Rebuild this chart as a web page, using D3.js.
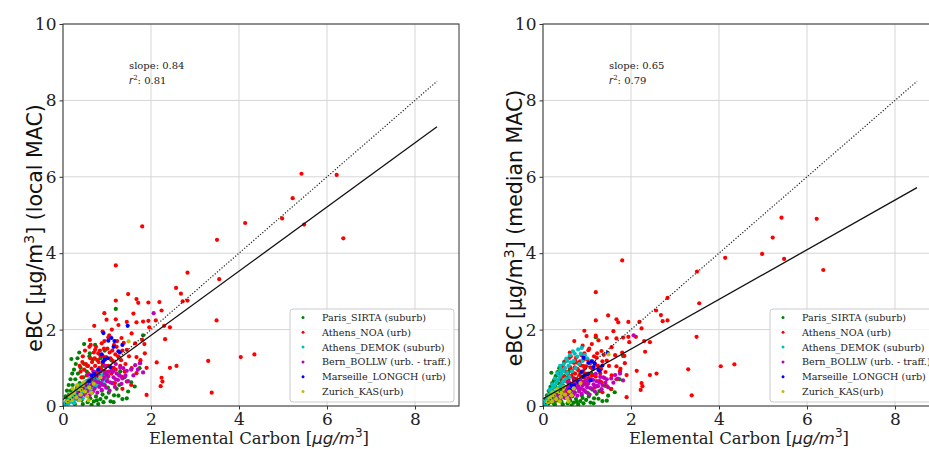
<!DOCTYPE html>
<html><head><meta charset="utf-8">
<script src="https://cdn.jsdelivr.net/npm/d3@7"></script>
<style>body{margin:0;background:#fff}svg{display:block}</style>
</head><body>
<svg id="chart" width="929" height="449"></svg>
<script>
// ---------- DATA ----------
const siteNames = ["Paris_SIRTA (suburb)", "Athens_NOA (urb)", "Athens_DEMOK (suburb)",
  "Bern_BOLLW (urb. - traff.)", "Marseille_LONGCH (urb)", "Zurich_KAS(urb)"];
const siteColors = ["#008000", "#ff0000", "#00bfbf", "#bf00bf", "#0000ff", "#bfbf00"];
const panelMac = ["local MAC", "median MAC"];
const slopes = [0.84, 0.65];
const r2Values = [0.81, 0.79];
const fitIntercepts = [0.17, 0.19];
const xTicks = [0, 2, 4, 6, 8];
const yTicks = [0, 2, 4, 6, 8, 10];
const lineEnd = 8.5;

// each point: [EC, eBC local MAC, eBC median MAC]
const parisSirta = [
[0.05,0.05,0.04],[0.08,0.12,0.09],[0.10,0.20,0.14],[0.12,0.08,0.06],[0.14,0.30,0.21],[0.16,0.15,0.11],
[0.18,0.40,0.28],[0.20,0.25,0.18],[0.22,0.55,0.39],[0.24,0.10,0.07],[0.26,0.35,0.25],[0.28,0.70,0.50],
[0.30,0.20,0.14],[0.32,0.48,0.34],[0.34,0.85,0.60],[0.36,0.28,0.20],[0.38,0.60,0.43],[0.40,1.00,0.71],
[0.42,0.15,0.11],[0.44,0.40,0.28],[0.46,0.75,0.53],[0.48,1.10,0.78],[0.50,0.30,0.21],[0.52,0.55,0.39],
[0.54,0.90,0.64],[0.56,0.10,0.07],[0.58,0.45,0.32],[0.60,1.30,0.92],[0.62,0.20,0.14],[0.64,0.70,0.50],
[0.66,0.35,0.25],[0.68,1.22,0.87],[0.70,0.12,0.09],[0.72,0.50,0.36],[0.75,0.25,0.18],[0.78,0.85,0.60],
[0.80,0.05,0.04],[0.82,0.62,0.44],[0.85,0.18,0.13],[0.88,0.40,0.28],[0.90,1.05,0.75],[0.92,0.10,0.07],
[0.95,0.55,0.39],[0.98,0.22,0.16],[1.00,0.80,0.57],[1.04,0.35,0.25],[1.08,0.12,0.09],[1.12,0.60,0.43],
[1.16,0.28,0.20],[1.20,2.54,1.80],[1.22,0.45,0.32],[1.26,0.27,0.19],[1.30,0.90,0.64],[1.35,0.18,0.13],
[1.40,0.75,0.53],[1.48,0.38,0.27],[1.55,0.62,0.44],[1.63,0.51,0.36],[1.74,0.99,0.70],[0.48,1.62,1.15],
[0.73,1.60,1.14],[0.61,1.38,0.98],[0.19,1.23,0.87],[0.95,1.45,1.03],[1.10,1.20,0.85],[1.82,1.85,1.31],
[0.06,0.25,0.18],[0.09,0.40,0.28],[0.13,0.55,0.39],[0.17,0.70,0.50],[0.21,0.85,0.60],[0.25,0.95,0.67],
[0.29,1.10,0.78],[0.33,1.25,0.89],[0.37,1.40,0.99],[0.27,0.05,0.04],[0.45,0.05,0.04],[0.65,0.03,0.02],
[0.77,0.15,0.11],[0.90,0.30,0.21],[1.02,0.48,0.34],[1.15,0.10,0.07],[1.28,0.55,0.39],[1.45,0.20,0.14],
[0.55,1.05,0.75],[0.85,1.25,0.89]
];
const athensNoa = [
[1.80,4.70,3.81],[1.20,3.68,2.98],[2.83,3.49,2.83],[3.55,3.32,2.69],[1.48,2.93,2.37],[2.57,3.09,2.50],
[2.68,2.94,2.38],[2.83,2.76,2.24],[2.72,2.74,2.22],[1.20,2.76,2.24],[1.67,2.80,2.27],[1.71,2.70,2.19],
[1.94,2.71,2.20],[2.19,2.72,2.20],[0.94,2.43,1.97],[1.60,2.42,1.96],[2.24,2.50,2.03],[0.99,2.26,1.83],
[1.20,2.27,1.84],[1.45,2.20,1.78],[1.67,2.19,1.77],[1.82,2.21,1.79],[1.94,2.23,1.81],[2.11,2.24,1.81],
[2.43,2.06,1.67],[2.30,2.10,1.70],[1.96,2.06,1.67],[1.26,2.12,1.72],[1.11,2.00,1.62],[0.71,2.10,1.70],
[0.90,1.95,1.58],[1.05,1.85,1.50],[3.49,2.24,1.81],[2.32,1.75,1.42],[1.85,1.62,1.31],[1.67,1.28,1.04],
[1.76,1.20,0.97],[2.13,1.14,0.92],[1.90,1.00,0.81],[2.43,1.00,0.81],[2.58,1.05,0.85],[2.24,0.74,0.60],
[2.26,0.64,0.52],[2.22,0.52,0.42],[1.90,0.29,0.23],[3.30,1.18,0.96],[3.38,0.35,0.28],[4.04,1.28,1.04],
[4.35,1.35,1.09],[5.42,6.08,4.93],[6.22,6.05,4.90],[5.22,5.44,4.41],[4.98,4.91,3.98],[5.48,4.75,3.85],
[4.14,4.79,3.88],[3.50,4.35,3.52],[6.37,4.39,3.56],[1.03,1.80,1.46],[1.33,1.78,1.44],[1.56,1.90,1.54],
[1.80,1.73,1.40],[1.22,1.55,1.26],[1.45,1.47,1.19],[1.64,1.64,1.33],[1.86,1.38,1.12],[1.75,1.12,0.91],
[1.56,0.99,0.80],[1.33,0.77,0.62],[1.18,0.60,0.49],[1.45,0.64,0.52],[1.67,0.86,0.70],[1.11,0.99,0.80],
[0.95,1.21,0.98],[0.80,1.38,1.12],[0.88,1.64,1.33],[0.73,1.47,1.19],[0.61,1.73,1.40],
[0.35,0.55,0.45],[0.42,0.75,0.61],[0.48,0.95,0.77],[0.52,1.10,0.89],[0.55,0.62,0.50],[0.58,0.85,0.69],
[0.62,1.25,1.01],[0.65,0.98,0.79],[0.68,0.72,0.58],[0.70,1.40,1.13],[0.73,1.05,0.85],[0.76,0.88,0.71],
[0.78,1.20,0.97],[0.80,0.65,0.53],[0.83,1.00,0.81],[0.85,1.32,1.07],[0.88,0.78,0.63],[0.90,1.12,0.91],
[0.93,1.50,1.22],[0.95,0.92,0.75],[0.98,1.28,1.04],[1.00,0.70,0.57],[1.03,1.05,0.85],[1.06,1.40,1.13],
[1.10,0.85,0.69],[1.13,1.18,0.96],[1.16,1.60,1.30],[1.20,0.95,0.77],[1.25,1.30,1.05],[1.30,1.05,0.85],
[1.35,1.45,1.17],[1.40,0.90,0.73],[0.45,1.30,1.05],[0.38,1.05,0.85],[0.60,1.55,1.26],[0.50,0.45,0.36],
[0.30,0.40,0.32],[0.25,0.30,0.24],[0.65,0.50,0.41],[0.72,0.58,0.47],[1.35,0.45,0.36],[1.55,0.55,0.45],
[0.40,0.90,0.73],[0.44,1.15,0.93],[0.50,1.45,1.17],[0.54,0.80,0.65],[0.57,1.05,0.85],[0.60,0.70,0.57],
[0.63,1.60,1.30],[0.66,1.15,0.93],[0.69,0.90,0.73],[0.72,1.25,1.01],[0.75,1.55,1.26],[0.77,0.75,0.61],
[0.81,1.15,0.93],[0.84,1.45,1.17],[0.87,0.95,0.77],[0.91,1.30,1.05],[0.94,1.70,1.38],[0.97,1.05,0.85],
[1.01,1.50,1.22],[1.04,0.90,0.73],[1.08,1.25,1.01],[1.12,1.45,1.17],[1.15,1.00,0.81],[1.19,1.35,1.09],
[1.23,1.70,1.38],[1.28,0.80,0.65],[1.32,1.20,0.97],[1.38,1.65,1.34],[1.42,1.10,0.89],[1.50,1.30,1.05],
[0.55,0.38,0.31],[0.85,0.55,0.45]
];
const athensDemok = [
[0.03,0.02,0.04],[0.05,0.06,0.11],[0.07,0.03,0.06],[0.09,0.08,0.15],[0.10,0.12,0.23],[0.12,0.06,0.11],
[0.14,0.15,0.29],[0.16,0.10,0.19],[0.18,0.20,0.38],[0.20,0.13,0.25],[0.22,0.25,0.48],[0.24,0.16,0.30],
[0.26,0.28,0.53],[0.28,0.20,0.38],[0.30,0.32,0.61],[0.32,0.22,0.42],[0.34,0.36,0.68],[0.36,0.25,0.48],
[0.38,0.40,0.76],[0.40,0.28,0.53],[0.42,0.44,0.84],[0.44,0.32,0.61],[0.46,0.48,0.91],[0.48,0.34,0.65],
[0.50,0.52,0.99],[0.52,0.38,0.72],[0.55,0.45,0.86],[0.58,0.55,1.05],[0.60,0.40,0.76],[0.63,0.60,1.14],
[0.66,0.48,0.91],[0.70,0.62,1.18],[0.74,0.52,0.99],[0.78,0.68,1.29],[0.82,0.58,1.10],[0.86,0.72,1.37],
[0.90,0.62,1.18],[0.95,0.70,1.33],[1.00,0.66,1.25],[0.35,0.15,0.29],[0.45,0.20,0.38],[0.25,0.08,0.15],
[0.68,0.75,1.43],[0.80,0.78,1.48],[0.55,0.62,1.18],[0.40,0.50,0.95],
[0.15,0.22,0.42],[0.21,0.30,0.57],[0.27,0.38,0.72],[0.33,0.45,0.86],[0.39,0.55,1.05],[0.47,0.58,1.10],
[0.53,0.65,1.24],[0.61,0.70,1.33],[0.72,0.72,1.37],[0.88,0.80,1.52]
];
const bernBollw = [
[0.30,0.20,0.15],[0.35,0.35,0.27],[0.40,0.25,0.19],[0.45,0.45,0.34],[0.50,0.30,0.23],[0.52,0.55,0.42],
[0.55,0.40,0.30],[0.58,0.65,0.49],[0.60,0.28,0.21],[0.62,0.50,0.38],[0.65,0.72,0.55],[0.68,0.38,0.29],
[0.70,0.58,0.44],[0.72,0.45,0.34],[0.75,0.80,0.61],[0.78,0.35,0.27],[0.80,0.62,0.47],[0.82,0.50,0.38],
[0.85,0.90,0.68],[0.88,0.42,0.32],[0.90,0.70,0.53],[0.92,0.55,0.42],[0.95,0.85,0.65],[0.98,0.48,0.36],
[1.00,0.65,0.49],[1.03,0.78,0.59],[1.06,0.40,0.30],[1.10,0.92,0.70],[1.12,0.60,0.46],[1.15,0.75,0.57],
[1.18,0.50,0.38],[1.22,0.85,0.65],[1.25,0.68,0.52],[1.30,1.00,0.76],[1.33,0.58,0.44],[1.37,0.99,0.75],
[1.42,0.80,0.61],[1.48,0.65,0.49],[1.55,0.95,0.72],[1.64,1.07,0.81],[1.75,1.12,0.85],[1.82,0.88,0.67],
[2.06,2.43,1.85],[1.20,1.10,0.84],[0.95,1.05,0.80],[0.70,0.90,0.68],
[0.58,0.82,0.62],[0.66,0.55,0.42],[0.74,0.65,0.49],[0.80,0.78,0.59],[0.86,0.60,0.46],[0.93,0.75,0.57],
[1.00,0.88,0.67],[1.07,0.62,0.47],[1.14,0.90,0.68],[1.20,0.70,0.53],[1.28,0.80,0.61],[1.35,0.72,0.55],
[1.45,0.92,0.70],[1.60,0.80,0.61],[1.70,0.95,0.72],[0.48,0.60,0.46]
];
const marseilleLongch = [
[1.47,2.10,1.39],[0.92,1.91,1.26],[1.03,1.71,1.13],[1.10,1.78,1.17],[1.17,1.70,1.12],[1.26,1.43,0.94],
[1.29,1.40,0.92],[0.95,1.22,0.81],[0.91,1.16,0.77],[0.71,0.84,0.55],[0.80,0.95,0.63],[1.02,1.25,0.83],
[1.15,1.55,1.02],[0.88,1.35,0.89],[0.65,0.80,0.53],[1.35,1.60,1.06],[0.60,0.65,0.43],[1.08,1.02,0.67]
];
const zurichKas = [
[0.10,0.12,0.10],[0.15,0.25,0.20],[0.20,0.15,0.12],[0.25,0.35,0.28],[0.30,0.22,0.18],[0.35,0.45,0.36],
[0.40,0.30,0.24],[0.45,0.55,0.44],[0.50,0.38,0.30],[0.55,0.25,0.20],[0.60,0.48,0.38],[0.65,0.35,0.28],
[0.70,0.58,0.46],[0.22,0.45,0.36],[0.38,0.15,0.12],[0.48,0.62,0.50],[1.49,1.69,1.35],[0.85,0.75,0.60],
[0.32,0.55,0.44],[0.58,0.15,0.12],[0.18,0.30,0.24],[0.42,0.42,0.34]
];
const siteData = [parisSirta, athensNoa, athensDemok, bernBollw, marseilleLongch, zurichKas];

// ---------- LAYOUT ----------
const svg = d3.select("#chart");
const panelLeft = [63, 543];
const plotW = 396, plotTop = 24, plotBottom = 406;
const serif = "'DejaVu Serif', serif";
const sans = "'DejaVu Sans', sans-serif";

panelMac.forEach((mac, p) => {
  const x = d3.scaleLinear().domain([0, 9]).range([panelLeft[p], panelLeft[p] + plotW]);
  const y = d3.scaleLinear().domain([0, 10]).range([plotBottom, plotTop]);
  const g = svg.append("g");

  const clipId = "clip" + p;
  svg.append("clipPath").attr("id", clipId).append("rect")
    .attr("x", x(0)).attr("y", plotTop).attr("width", plotW).attr("height", plotBottom - plotTop);

  // grid
  g.append("g").selectAll("line").data(xTicks).join("line")
    .attr("x1", d => x(d)).attr("x2", d => x(d)).attr("y1", plotTop).attr("y2", plotBottom)
    .attr("stroke", "#d6d6d6").attr("stroke-width", 1);
  g.append("g").selectAll("line").data(yTicks).join("line")
    .attr("x1", x(0)).attr("x2", x(9)).attr("y1", d => y(d)).attr("y2", d => y(d))
    .attr("stroke", "#d6d6d6").attr("stroke-width", 1);

  // points
  const pts = g.append("g").attr("clip-path", `url(#${clipId})`);
  siteData.forEach((arr, s) => {
    pts.append("g").selectAll("circle").data(arr).join("circle")
      .attr("cx", d => x(d[0])).attr("cy", d => y(d[1 + p])).attr("r", 2.1)
      .attr("fill", siteColors[s]);
  });

  // 1:1 dotted line and fit line
  const lines = g.append("g").attr("clip-path", `url(#${clipId})`);
  lines.append("line").attr("x1", x(0)).attr("y1", y(0)).attr("x2", x(lineEnd)).attr("y2", y(lineEnd))
    .attr("stroke", "#222").attr("stroke-width", 1.2).attr("stroke-dasharray", "1.2,1.8");
  lines.append("line").attr("x1", x(0)).attr("y1", y(fitIntercepts[p]))
    .attr("x2", x(lineEnd)).attr("y2", y(fitIntercepts[p] + slopes[p] * lineEnd))
    .attr("stroke", "#111").attr("stroke-width", 1.3);

  // spines
  g.append("rect").attr("x", x(0)).attr("y", plotTop).attr("width", plotW).attr("height", plotBottom - plotTop)
    .attr("fill", "none").attr("stroke", "#333").attr("stroke-width", 1);

  // axes
  const xa = g.append("g").attr("transform", `translate(0,${plotBottom})`)
    .call(d3.axisBottom(x).tickValues(xTicks).tickSize(3.5).tickPadding(3).tickFormat(d3.format("d")));
  const ya = g.append("g").attr("transform", `translate(${x(0)},0)`)
    .call(d3.axisLeft(y).tickValues(yTicks).tickSize(3.5).tickPadding(3).tickFormat(d3.format("d")));
  [xa, ya].forEach(a => {
    a.select(".domain").remove();
    a.selectAll("line").attr("stroke", "#333");
    a.selectAll("text").attr("font-family", serif).attr("font-size", 17).attr("fill", "#222");
  });

  // annotation
  const ax = x(1.5);
  g.append("text").attr("x", ax).attr("y", 69).attr("font-family", serif).attr("font-size", 10)
    .attr("fill", "#222").text("slope: " + slopes[p].toFixed(2));
  const r2t = g.append("text").attr("x", ax).attr("y", 84).attr("font-family", serif)
    .attr("font-size", 10).attr("fill", "#222");
  r2t.append("tspan").attr("font-family", sans).attr("font-style", "italic").text("r");
  r2t.append("tspan").attr("font-size", 7).attr("dy", -4).text("2");
  r2t.append("tspan").attr("dy", 4).text(": " + r2Values[p].toFixed(2));

  // x label
  const xl = g.append("text").attr("x", x(0) + plotW / 2 - 2).attr("y", 444)
    .attr("text-anchor", "middle").attr("font-family", serif).attr("font-size", 16.5).attr("fill", "#222");
  xl.append("tspan").text("Elemental Carbon [");
  xl.append("tspan").attr("font-family", sans).attr("font-style", "italic").text("μg/m");
  xl.append("tspan").attr("font-family", sans).attr("font-size", 12).attr("dy", -7).text("3");
  xl.append("tspan").attr("dy", 7).text("]");

  // y label
  const yl = g.append("text").attr("transform", `translate(${x(0) - 21},228) rotate(-90)`)
    .attr("text-anchor", "middle").attr("font-family", sans).attr("font-size", 20.5).attr("fill", "#111");
  yl.append("tspan").text("eBC [μg/m");
  yl.append("tspan").attr("font-size", 14).attr("dy", -8).text("3");
  yl.append("tspan").attr("dy", 8).text("] (" + mac + ")");

  // legend
  const lx = x(0) + 227, ly = 309;
  const leg = g.append("g");
  leg.append("rect").attr("x", lx).attr("y", ly).attr("width", 164).attr("height", 93)
    .attr("rx", 3).attr("fill", "#fff").attr("fill-opacity", 0.8)
    .attr("stroke", "#cccccc").attr("stroke-width", 1);
  siteNames.forEach((name, s) => {
    const yy = ly + 8.5 + s * 14.8;
    leg.append("circle").attr("cx", lx + 13).attr("cy", yy).attr("r", 1.5).attr("fill", siteColors[s]);
    leg.append("text").attr("x", lx + 32).attr("y", yy + 3.5).attr("font-family", serif)
      .attr("font-size", 9.6).attr("fill", "#222").text(name);
  });
});
</script>
</body></html>
